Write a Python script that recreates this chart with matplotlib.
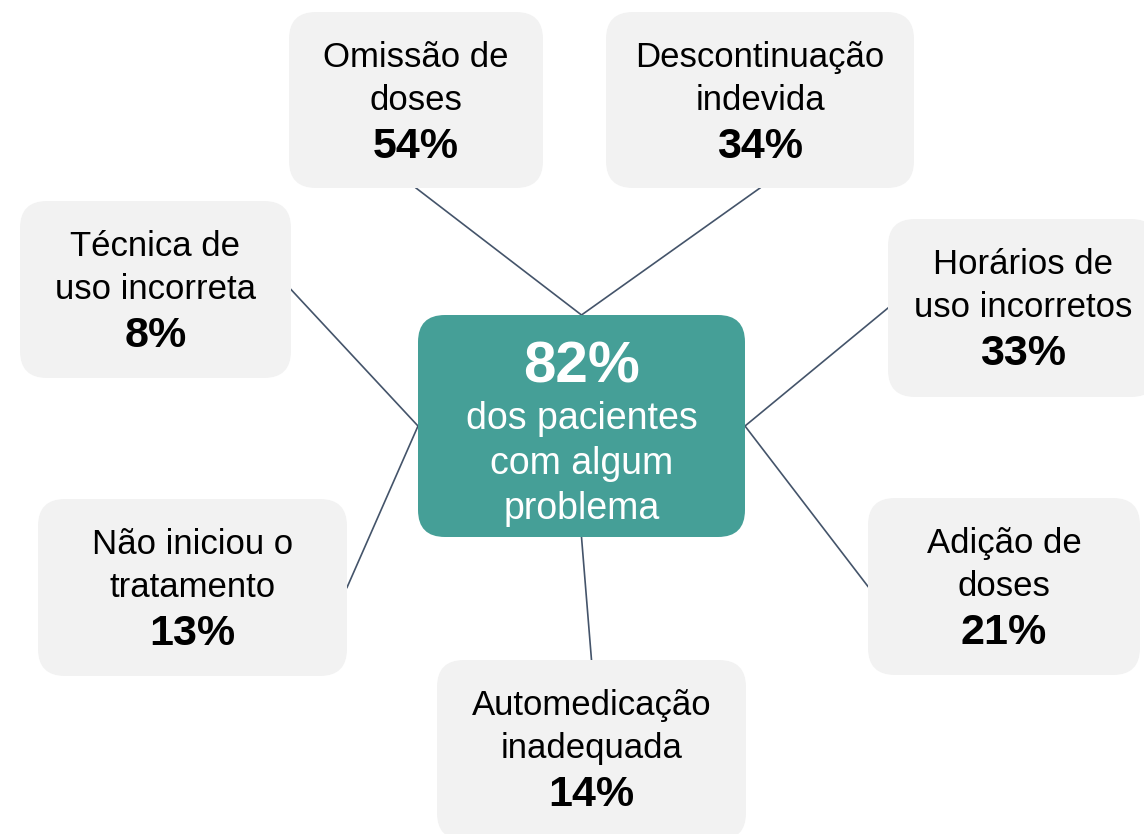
import matplotlib.pyplot as plt
from matplotlib.patches import FancyBboxPatch

plt.rcParams['font.family'] = ['Liberation Sans', 'DejaVu Sans']

# data
labels = [
    ['Omissão de', 'doses'],
    ['Descontinuação', 'indevida'],
    ['Técnica de', 'uso incorreta'],
    ['Horários de', 'uso incorretos'],
    ['Não iniciou o', 'tratamento'],
    ['Adição de', 'doses'],
    ['Automedicação', 'inadequada'],
]
percents = [54, 34, 8, 33, 13, 21, 14]
center_value = 82
center_lines = ['dos pacientes', 'com algum', 'problema']

# layout in pixels (x0, y0, x1, y1), y grows downward
boxes = [
    (289, 12, 543, 188),
    (606, 12, 914, 188),
    (20, 201, 291, 378),
    (888, 219, 1158, 397),
    (38, 499, 347, 676),
    (868, 498, 1140, 675),
    (437, 660, 746, 840),
]
# which side of the box the connector leaves from, and where it lands on the centre box
box_side = ['bottom', 'bottom', 'right', 'left', 'right', 'left', 'top']
center_side = ['top', 'top', 'left', 'right', 'left', 'right', 'bottom']
center_box = (418, 315, 745, 537)

GREY = '#F2F2F2'
TEAL = '#459F97'
LINE = '#44546A'


def anchor(b, side):
    x0, y0, x1, y1 = b
    if side == 'top':
        return ((x0 + x1) / 2, y0)
    if side == 'bottom':
        return ((x0 + x1) / 2, y1)
    if side == 'left':
        return (x0, (y0 + y1) / 2)
    return (x1, (y0 + y1) / 2)


def rbox(ax, b, color, r=27):
    x0, y0, x1, y1 = b
    p = FancyBboxPatch((x0 + r, y0 + r), (x1 - x0) - 2 * r, (y1 - y0) - 2 * r,
                       boxstyle='round,pad=%d' % r, fc=color, ec='none', zorder=2)
    ax.add_patch(p)


fig = plt.figure(figsize=(11.44, 8.34), dpi=100)
ax = fig.add_axes([0, 0, 1, 1])
ax.set_xlim(0, 1144)
ax.set_ylim(834, 0)
ax.axis('off')

# connectors
for b, s, cs in zip(boxes, box_side, center_side):
    (xa, ya), (xb, yb) = anchor(b, s), anchor(center_box, cs)
    ax.plot([xa, xb], [ya, yb], color=LINE, lw=1.2, zorder=1)

# outer boxes
for b, lab, pct in zip(boxes, labels, percents):
    rbox(ax, b, GREY)
    cx = (b[0] + b[2]) / 2
    top = b[1]
    ax.text(cx, top + 55, lab[0], ha='center', va='baseline', fontsize=25, color='black', zorder=3)
    ax.text(cx, top + 98, lab[1], ha='center', va='baseline', fontsize=25, color='black', zorder=3)
    ax.text(cx, top + 146, f'{pct}%', ha='center', va='baseline', fontsize=31,
            fontweight='bold', color='black', zorder=3)

# centre box
rbox(ax, center_box, TEAL)
ccx = (center_box[0] + center_box[2]) / 2
ax.text(ccx, 382, f'{center_value}%', ha='center', va='baseline', fontsize=42,
        fontweight='bold', color='white', zorder=3)
for i, t in enumerate(center_lines):
    ax.text(ccx, 429 + 45 * i, t, ha='center', va='baseline', fontsize=27, color='white', zorder=3)

fig.savefig('out.png', dpi=100)
